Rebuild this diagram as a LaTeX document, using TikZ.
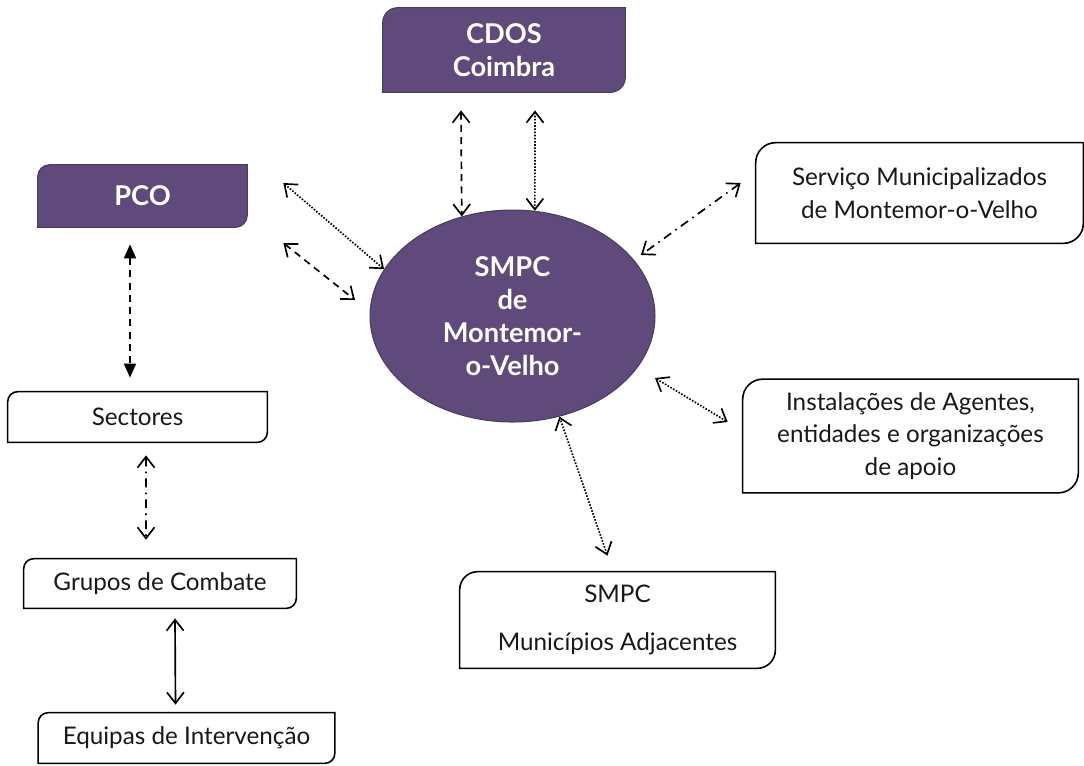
\documentclass[tikz,border=0pt]{standalone}
\usepackage{fontspec}
\setmainfont{Lato}
\usetikzlibrary{arrows.meta,backgrounds,shapes.geometric}
\definecolor{smpcpurple}{HTML}{604A7B}
\definecolor{smpcedge}{HTML}{4B3A61}

% box with two rounded corners (top left, bottom right)
\newcommand{\diagbox}[3][]{%
	\draw[#1] ([yshift=-#3]#2.north west) arc[start angle=180,end angle=90,radius=#3]
		-- (#2.north east) -- ([yshift=#3]#2.south east) arc[start angle=0,end angle=-90,radius=#3]
		-- (#2.south west) -- cycle;}

\begin{document}
\begin{tikzpicture}[x=0.02cm,y=-0.02cm,font=\fontsize{13.8}{18.5}\selectfont]
	\tikzstyle{whitebox}=[inner sep=0pt,align=center,text=black!90]
	\tikzstyle{purplebox}=[inner sep=0pt,align=center,text=white,font=\fontsize{15.5}{18.8}\selectfont\bfseries]
	\tikzstyle{boxline}=[line width=0.9pt,fill=white]
	\tikzstyle{purpleline}=[line width=0.6pt,draw=smpcedge,fill=smpcpurple]
	\tikzstyle{myarrow}=[line width=0.95pt,{Straight Barb[length=2.2mm,width=3.4mm]}-{Straight Barb[length=2.2mm,width=3.4mm]}]
	\tikzstyle{dasharrow}=[myarrow,dash pattern=on 4pt off 3pt]
	\tikzstyle{dotarrow}=[myarrow,dash pattern=on 0.9pt off 0.9pt]
	\tikzstyle{dashdotarrow}=[myarrow,dash pattern=on 5pt off 3pt on 0.9pt off 3pt]
	\tikzstyle{fillarrow}=[line width=0.95pt,dash pattern=on 4pt off 3pt,{Triangle[length=2.8mm,width=2.4mm]}-{Triangle[length=2.8mm,width=2.4mm]}]

	\useasboundingbox (0,0) rectangle (1084,765);
%	\draw[help lines,step=50] (0,0) grid (1084,765);

	\node[purplebox,minimum width=4.84cm,minimum height=1.68cm] (cdos) at (504,50) {CDOS\\Coimbra};
	\node[purplebox,minimum width=4.18cm,minimum height=1.24cm] (pco) at (142.5,196) {PCO};
	\node[ellipse,purpleline,purplebox,minimum width=5.7cm,minimum height=4.24cm] (smpc) at (512.5,316) {SMPC\\de\\Montemor-\\o-Velho};

	\node[whitebox,minimum width=6.54cm,minimum height=2.0cm] (servico) at (919.5,193) {Serviço Municipalizados\\de Montemor-o-Velho};
	\node[whitebox,minimum width=6.7cm,minimum height=2.26cm] (instal) at (910.5,436) {Instalações de Agentes,\\entidades e organizações\\de apoio};
	\node[whitebox,minimum width=6.3cm,minimum height=1.92cm] (munic) at (617.5,620) {SMPC\\[0.3cm]Municípios Adjacentes};

	\node[whitebox,minimum width=5.18cm,minimum height=1.0cm] (sect) at (137.5,417) {Sectores};
	\node[whitebox,minimum width=5.44cm,minimum height=0.98cm] (grupos) at (160,583.5) {Grupos de Combate};
	\node[whitebox,minimum width=5.92cm,minimum height=1.0cm] (equipas) at (186.5,738) {Equipas de Intervenção};

	\begin{scope}[on background layer]
		\diagbox[purpleline]{cdos}{3mm}
		\diagbox[purpleline]{pco}{2.4mm}
		\diagbox[boxline]{servico}{4mm}
		\diagbox[boxline]{instal}{4mm}
		\diagbox[boxline]{munic}{3.6mm}
		\diagbox[boxline]{sect}{2mm}
		\diagbox[boxline]{grupos}{2mm}
		\diagbox[boxline]{equipas}{2mm}
	\end{scope}

	\draw[dasharrow] ([shift={(-43,18)}]cdos.south) -- (smpc.117);
	\draw[dotarrow] ([shift={(31,18)}]cdos.south) -- (smpc.78);

	\draw[dotarrow] ([shift={(36,-13)}]pco.east) -- (smpc.160);
	\draw[dasharrow] ([shift={(36,47)}]pco.east) -- ([shift={(-157.5,-16)}]smpc.center);

	\draw[dashdotarrow] ([shift={(-15,-10)}]servico.west) -- ([shift={(128.5,-61)}]smpc.center);
	\draw[dotarrow] ([shift={(-15,-14)}]instal.west) -- ([shift={(142.5,62)}]smpc.center);
	\draw[dotarrow] ([shift={(-10,-16)}]munic.north) -- (smpc.-65);

	\draw[fillarrow] ([shift={(-12.5,17)}]pco.south) -- ([shift={(-7.5,-14)}]sect.north);
	\draw[dashdotarrow] ([shift={(8.5,13)}]sect.south) -- ([shift={(-14,-19)}]grupos.north);
	\draw[myarrow] ([shift={(15,10)}]grupos.south) -- ([shift={(-11,-8)}]equipas.north);
\end{tikzpicture}
\end{document}
